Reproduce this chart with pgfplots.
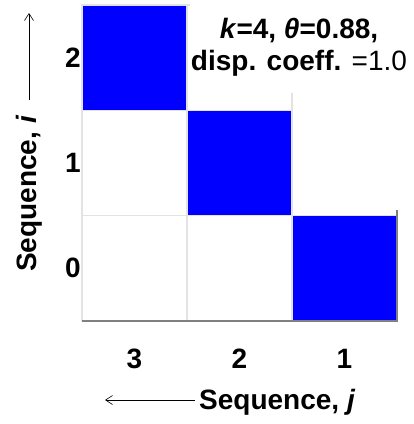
\documentclass[border=0pt]{standalone}
\usepackage{fontspec}
\setmainfont{Liberation Sans}
\usepackage{pgfplots}
\pgfplotsset{compat=1.18}
\usepgfplotslibrary{patchplots}
\usetikzlibrary{arrows.meta}
\newcommand{\fs}{\fontsize{28}{33}\selectfont\bfseries}

\begin{document}
\begin{tikzpicture}
\begin{axis}[
    name=ax,
    scale only axis,
    width=315pt, height=316pt,
    xmin=-0.5, xmax=2.5, ymin=-0.5, ymax=2.5,
    xtick={0,1,2}, xticklabels={3,2,1},
    ytick={0,1,2}, yticklabels={0,1,2},
    axis line style={draw=none},
    major tick length=0pt,
    tick style={draw=none},
    ticklabel style={font=\fs},
    xticklabel style={anchor=center, yshift=-38pt},
    yticklabel style={anchor=east, inner sep=1pt},
    colormap={wb}{color=(white) color=(blue)},
    point meta min=0, point meta max=1,
    clip=false,
]
% cells: value 1 = blue, 0 = white (columns j = 3,2,1 at x = 0,1,2)
\addplot[patch, patch type=rectangle, shader=faceted, faceted color=black!11,
    line width=1.2pt, point meta=explicit] table[meta=c] {
x    y    c
0.5  1.5  0
1.5  1.5  0
1.5  2.5  0
0.5  2.5  0
-0.5 0.5  0
0.5  0.5  0
0.5  1.5  0
-0.5 1.5  0
-0.5 -0.5 0
0.5  -0.5 0
0.5  0.5  0
-0.5 0.5  0
0.5  -0.5 0
1.5  -0.5 0
1.5  0.5  0
0.5  0.5  0
-0.5 1.5  1
0.5  1.5  1
0.5  2.5  1
-0.5 2.5  1
0.5  0.5  1
1.5  0.5  1
1.5  1.5  1
0.5  1.5  1
1.5  -0.5 1
2.5  -0.5 1
2.5  0.5  1
1.5  0.5  1
};
\draw[gray, line width=1.2pt] (axis cs:-0.5,-0.5) -- (axis cs:2.5,-0.5) -- (axis cs:2.5,0.55);
\end{axis}

% annotation box
\fill[white] ([shift={(108pt,228pt)}]ax.south west) rectangle ([shift={(340pt,330pt)}]ax.south west);
\node[anchor=base, font=\fs, inner sep=0] at ([shift={(217pt,283pt)}]ax.south west) {\textit{k}=4, \textit{θ}=0.88,};
\node[anchor=base, font=\fs, inner sep=0] at ([shift={(217pt,251pt)}]ax.south west) {disp. coeff. {\mdseries =1.0}};

% axis labels with arrows
\node[anchor=base west, font=\fs, inner sep=0] at ([shift={(117pt,-88pt)}]ax.south west) {Sequence, \textit{j}};
\draw[-{Straight Barb[length=7pt,width=9pt]}, line width=0.6pt]
    ([shift={(113pt,-79pt)}]ax.south west) -- ([shift={(23pt,-79pt)}]ax.south west);
\node[rotate=90, anchor=base west, font=\fs, inner sep=0] at ([shift={(-45pt,49pt)}]ax.south west) {Sequence, \textit{i}};
\draw[-{Straight Barb[length=7pt,width=9pt]}, line width=0.6pt]
    ([shift={(-53pt,221pt)}]ax.south west) -- ([shift={(-53pt,308pt)}]ax.south west);

\pgfresetboundingbox
\path[use as bounding box] ([shift={(-82pt,-103pt)}]ax.south west) rectangle ([shift={(332pt,321pt)}]ax.south west);
\end{tikzpicture}
\end{document}
